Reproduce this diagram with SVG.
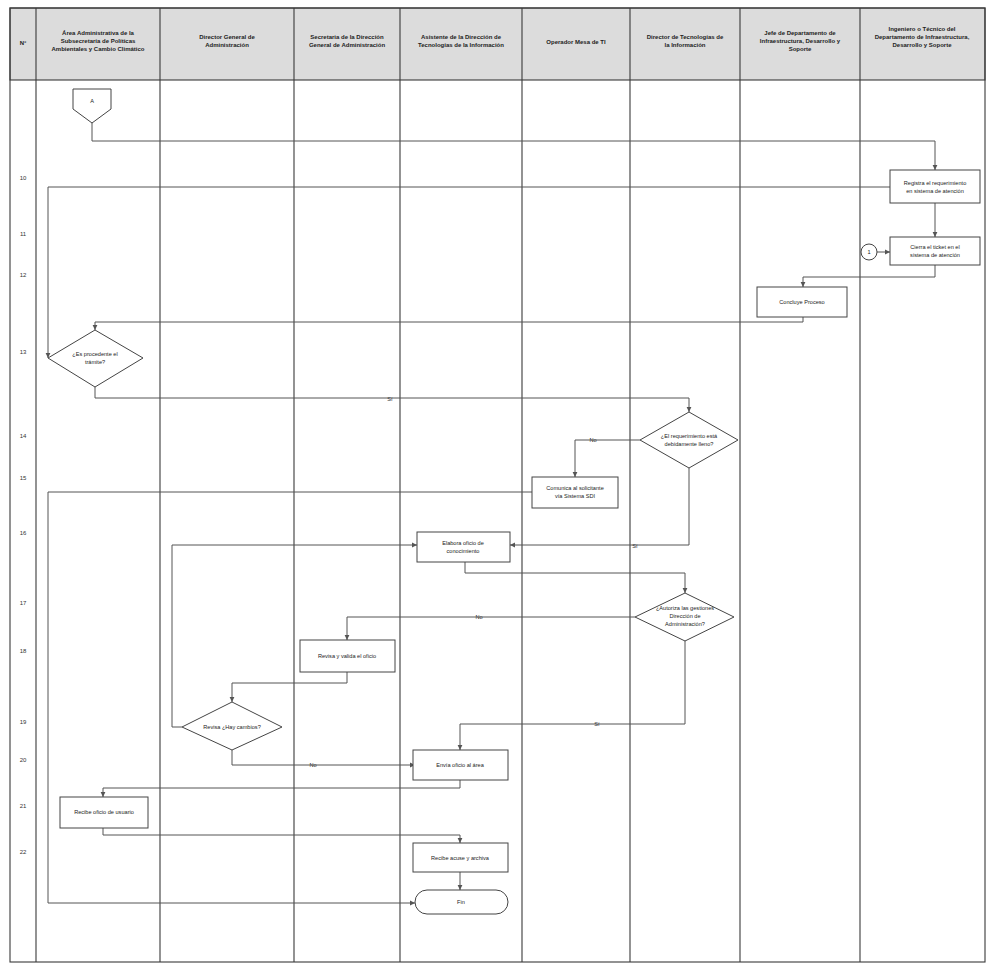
<svg xmlns="http://www.w3.org/2000/svg" width="987" height="966" viewBox="0 0 987 966">
  <style>
    .lane { stroke: #3a3a3a; stroke-width: 1.1; fill: none; }
    .hdr { fill: #dcdcdc; stroke: #3a3a3a; stroke-width: 1.1; }
    .ht { font-family: "Liberation Sans", Arial, sans-serif; font-size: 6px; font-weight: bold; fill: #222; text-anchor: middle; }
    .num { font-family: "Liberation Sans", Arial, sans-serif; font-size: 6px; fill: #333; text-anchor: middle; }
    .box { fill: #fff; stroke: #444; stroke-width: 1; }
    .nt { font-family: "Liberation Sans", Arial, sans-serif; font-size: 5.6px; fill: #222; text-anchor: middle; }
    .lbl { font-family: "Liberation Sans", Arial, sans-serif; font-size: 5.6px; fill: #333; text-anchor: middle; }
    .wire { fill: none; stroke: #555; stroke-width: 1; marker-end: url(#arr); }
    .wire2 { fill: none; stroke: #555; stroke-width: 1; }
  </style>
  <defs>
    <marker id="arr" markerWidth="6" markerHeight="6" refX="5" refY="3" orient="auto" markerUnits="userSpaceOnUse">
      <path d="M0,0.6 L5,3 L0,5.4 z" fill="#555"/>
    </marker>
  </defs>
  <rect width="987" height="966" fill="#fff"/>

  <!-- swimlane table -->
  <g id="table">
    <rect class="hdr" x="10" y="8" width="975" height="72"/>
    <rect class="lane" x="10" y="8" width="975" height="954"/>
    <line class="lane" x1="36" y1="8" x2="36" y2="962"/>
    <line class="lane" x1="160" y1="8" x2="160" y2="962"/>
    <line class="lane" x1="294" y1="8" x2="294" y2="962"/>
    <line class="lane" x1="400" y1="8" x2="400" y2="962"/>
    <line class="lane" x1="522" y1="8" x2="522" y2="962"/>
    <line class="lane" x1="630" y1="8" x2="630" y2="962"/>
    <line class="lane" x1="740" y1="8" x2="740" y2="962"/>
    <line class="lane" x1="860" y1="8" x2="860" y2="962"/>

    <text class="ht" x="23" y="45">N°</text>
    <text class="ht" x="98" y="35">Área Administrativa de la</text>
    <text class="ht" x="98" y="43">Subsecretaría de Políticas</text>
    <text class="ht" x="98" y="51">Ambientales y Cambio Climático</text>
    <text class="ht" x="227" y="39">Director General de</text>
    <text class="ht" x="227" y="47">Administración</text>
    <text class="ht" x="347" y="39">Secretaria de la Dirección</text>
    <text class="ht" x="347" y="47">General de Administración</text>
    <text class="ht" x="461" y="39">Asistente de la Dirección de</text>
    <text class="ht" x="461" y="47">Tecnologías de la Información</text>
    <text class="ht" x="576" y="44">Operador Mesa de TI</text>
    <text class="ht" x="685" y="39">Director de Tecnologías de</text>
    <text class="ht" x="685" y="47">la Información</text>
    <text class="ht" x="800" y="35">Jefe de Departamento de</text>
    <text class="ht" x="800" y="43">Infraestructura, Desarrollo y</text>
    <text class="ht" x="800" y="51">Soporte</text>
    <text class="ht" x="922" y="31">Ingeniero o Técnico del</text>
    <text class="ht" x="922" y="39">Departamento de Infraestructura,</text>
    <text class="ht" x="922" y="47">Desarrollo y Soporte</text>

    <text class="num" x="23" y="180">10</text>
    <text class="num" x="23" y="236">11</text>
    <text class="num" x="23" y="277">12</text>
    <text class="num" x="23" y="354">13</text>
    <text class="num" x="23" y="438">14</text>
    <text class="num" x="23" y="480">15</text>
    <text class="num" x="23" y="535">16</text>
    <text class="num" x="23" y="605">17</text>
    <text class="num" x="23" y="653">18</text>
    <text class="num" x="23" y="724">19</text>
    <text class="num" x="23" y="762">20</text>
    <text class="num" x="23" y="808">21</text>
    <text class="num" x="23" y="854">22</text>
  </g>

  <!-- connectors -->
  <g id="connectors">
    <path class="wire" d="M92,123 V141 H935 V170"/>
    <path class="wire" d="M935,203 V237"/>
    <path class="wire" d="M890,187 H48 V358"/>
    <path class="wire" d="M877,252 H890"/>
    <path class="wire" d="M935,265 V277 H803 V287"/>
    <path class="wire" d="M803,317 V322 H95 V330"/>
    <path class="wire" d="M95,387 V398 H689 V412"/>
    <text class="lbl" x="390" y="401">Sí</text>
    <path class="wire" d="M640,440 H575 V477"/>
    <text class="lbl" x="593" y="442">No</text>
    <path class="wire" d="M532,492 H48 V903 H415"/>
    <path class="wire" d="M689,468 V545 H510"/>
    <text class="lbl" x="635" y="548">Sí</text>
    <path class="wire" d="M465,562 V573 H685 V593"/>
    <path class="wire" d="M635,617 H347 V640"/>
    <text class="lbl" x="479" y="619">No</text>
    <path class="wire" d="M347,672 V683 H232 V702"/>
    <path class="wire" d="M182,727 H172 V545 H417"/>
    <path class="wire" d="M232,750 V765 H415"/>
    <text class="lbl" x="313" y="767">No</text>
    <path class="wire" d="M685,640 V724 H460 V750"/>
    <text class="lbl" x="597" y="726">Sí</text>
    <path class="wire" d="M460,780 V788 H103 V797"/>
    <path class="wire" d="M103,828 V835 H460 V843"/>
    <path class="wire" d="M460,872 V890"/>
  </g>

  <!-- nodes -->
  <g id="offpage-a">
    <path class="box" d="M73,89 H111 V109 L92,123 L73,109 Z"/>
    <text class="nt" x="92" y="103">A</text>
  </g>
  <g id="registra-requerimiento">
    <rect class="box" x="890" y="170" width="90" height="33"/>
    <text class="nt" x="935" y="185">Registra el requerimiento</text>
    <text class="nt" x="935" y="193">en sistema de atención</text>
  </g>
  <g id="connector-1">
    <circle class="box" cx="869" cy="252" r="8"/>
    <text class="nt" x="869" y="254">1</text>
  </g>
  <g id="cierra-requerimiento">
    <rect class="box" x="890" y="237" width="90" height="28"/>
    <text class="nt" x="935" y="249">Cierra el ticket en el</text>
    <text class="nt" x="935" y="257">sistema de atención</text>
  </g>
  <g id="concluye-proceso">
    <rect class="box" x="757" y="287" width="90" height="30"/>
    <text class="nt" x="802" y="304">Concluye Proceso</text>
  </g>
  <g id="es-procedente">
    <path class="box" d="M48,358 L95,330 L143,358 L95,387 Z"/>
    <text class="nt" x="95" y="356">¿Es procedente el</text>
    <text class="nt" x="95" y="364">trámite?</text>
  </g>
  <g id="requerimiento-lleno">
    <path class="box" d="M640,440 L689,412 L738,440 L689,468 Z"/>
    <text class="nt" x="689" y="438">¿El requerimiento está</text>
    <text class="nt" x="689" y="446">debidamente lleno?</text>
  </g>
  <g id="comunica-usuario">
    <rect class="box" x="532" y="477" width="86" height="31"/>
    <text class="nt" x="575" y="490">Comunica al solicitante</text>
    <text class="nt" x="575" y="498">vía Sistema SDI</text>
  </g>
  <g id="elabora-oficio">
    <rect class="box" x="417" y="532" width="93" height="30"/>
    <text class="nt" x="463" y="545">Elabora oficio de</text>
    <text class="nt" x="463" y="553">conocimiento</text>
  </g>
  <g id="autoriza-gestion">
    <path class="box" d="M635,617 L685,593 L734,617 L685,641 Z"/>
    <text class="nt" x="685" y="610">¿Autoriza las gestiones</text>
    <text class="nt" x="685" y="618">Dirección de</text>
    <text class="nt" x="685" y="626">Administración?</text>
  </g>
  <g id="revisa-valida">
    <rect class="box" x="300" y="640" width="95" height="32"/>
    <text class="nt" x="347" y="658">Revisa y valida el oficio</text>
  </g>
  <g id="hay-cambios">
    <path class="box" d="M182,727 L232,702 L282,727 L232,750 Z"/>
    <text class="nt" x="232" y="729">Revisa ¿Hay cambios?</text>
  </g>
  <g id="envia-oficio">
    <rect class="box" x="413" y="750" width="95" height="30"/>
    <text class="nt" x="460" y="767">Envía oficio al área</text>
  </g>
  <g id="recibe-oficio">
    <rect class="box" x="60" y="797" width="88" height="31"/>
    <text class="nt" x="104" y="814">Recibe oficio de usuario</text>
  </g>
  <g id="recibe-acuse">
    <rect class="box" x="413" y="843" width="95" height="29"/>
    <text class="nt" x="460" y="860">Recibe acuse y archiva</text>
  </g>
  <g id="fin">
    <rect class="box" x="415" y="890" width="93" height="24" rx="12"/>
    <text class="nt" x="461" y="904">Fin</text>
  </g>
</svg>
